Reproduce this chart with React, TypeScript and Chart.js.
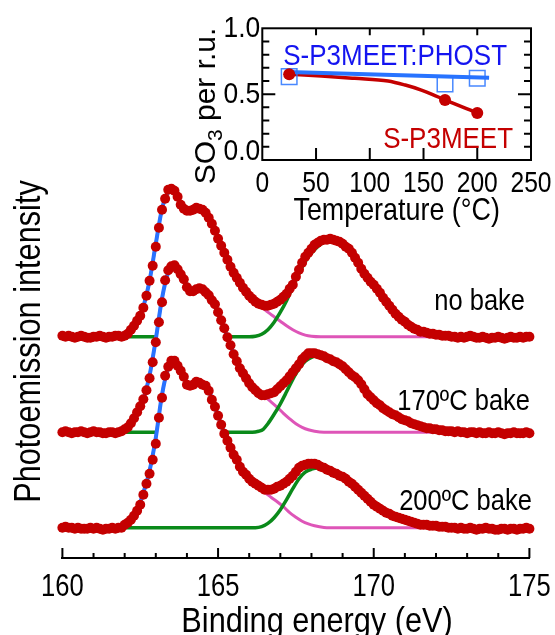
import React, { useEffect, useRef } from 'react';
import { Chart, registerables } from 'chart.js';

Chart.register(...registerables);

const SANS = "'Liberation Sans', Arial, Helvetica, sans-serif";

// ---------------- main XPS spectra ----------------
const ENERGY_START = 160; // eV, first measured point
const ENERGY_STEP = 0.1; // eV, measurement step

const spectrumLabels = ['no bake', '170ºC bake', '200ºC bake'];
const spectrumOffsets = [221.3, 125.7, 30.3]; // vertical stacking offsets (a.u.)
const energyTicks = [160, 165, 170, 175];

// measured intensities (a.u.) from 160.0 to 175.0 eV in 0.1 eV steps
const noBakeData = [
  1, 0, 1, 0, -1, 0, 1, 0, -1, -1, 0, 0, 1, 0, -1, 0, 0, 1, 1, 0,
  1, 3, 7, 11, 16, 21, 29, 41, 56, 71,
  90, 109, 127, 138, 147, 148, 146, 140, 132, 128,
  126, 126, 127, 129, 128, 127, 124, 119, 113, 106,
  98, 91, 84, 77, 70, 64, 59, 54, 49, 45,
  41, 38, 35, 33, 32, 31, 31, 32, 33, 35,
  37, 40, 43, 48, 52, 60, 67, 74, 80, 84,
  88, 92, 94, 96, 97, 97, 98, 97, 96, 95,
  93, 90, 88, 84, 79, 74, 68, 63, 59, 55,
  52, 48, 44, 39, 35, 31, 27, 23, 20, 17,
  15, 12, 10, 8, 7, 5, 5, 4, 3, 3,
  2, 2, 1, 1, 1, 0,
  0, -1, 0, -1, 0, 1, 0, -1, -1, 0, -1, -2, -1, -1, 0, -1, -2, -1, 0, -1, -1, 0, -1, 0, 0,
];
const bake170Data = [
  0, 1, 0, -1, 0, 0, 1, 0, -1, 0, 1, 0, 0, -1, -1, 0, 0, -1, 0, 1,
  3, 5, 9, 14, 20, 26, 33, 42, 54, 70,
  90, 110, 130, 152, 162, 166, 167, 163, 158, 153,
  145, 141, 141, 143, 144, 143, 140, 137, 132, 128,
  120, 112, 104, 95, 87, 78, 71, 64, 59, 54,
  49, 45, 42, 39, 37, 37, 38, 39, 40, 43,
  46, 49, 52, 56, 60, 64, 68, 73, 76, 79,
  79, 79, 78, 77, 76, 74, 73, 71, 70, 68,
  66, 63, 60, 57, 55, 52, 48, 43, 38, 35,
  32, 29, 27, 24, 22, 20, 18, 17, 15, 13,
  12, 11, 9, 8, 7, 6, 5, 4, 4, 3,
  3, 2, 2, 1, 1, 1,
  0, 1, 0, 0, -1, 0, 0, -1, 0, -1, -1, 0, -1, -1, 0, -1, -2, -1, -1, 0, -1, -1, -1, 0, -1,
];
const bake200Data = [
  0, 1, 0, 0, -1, 0, -1, -1, -1, 0, -1, 0, -1, -2, -1, -1, 0, -1, 0, 0,
  3, 5, 8, 12, 17, 23, 33, 44, 54, 68,
  84, 110, 130, 152, 161, 167, 167, 162, 157, 151,
  143, 142, 143, 146, 145, 143, 142, 137, 128, 121,
  112, 103, 94, 87, 80, 73, 68, 61, 56, 53,
  49, 46, 44, 42, 40, 38, 38, 38, 39, 41,
  42, 44, 46, 49, 52, 56, 60, 62, 63, 64,
  64, 64, 63, 61, 60, 58, 57, 55, 54, 52,
  51, 49, 46, 44, 41, 38, 35, 32, 29, 26,
  23, 21, 19, 17, 15, 14, 12, 11, 10, 9,
  8, 7, 6, 5, 4, 3, 3, 3, 2, 2,
  2, 1, 1, 1, 0, 0,
  0, -1, 0, -1, -1, 0, -1, -2, -1, -1, 0, -1, -1, -2, -2, -1, -1, -2, -1, -1, -2, -1, -1, 0, -1,
];

// fitted curves: [binding energy (eV), intensity (a.u.)]
const noBakeEnvelope = [
  [160, 0], [161.8, 0], [162, 0.5], [162.2, 5], [162.4, 14], [162.6, 30], [162.8, 56], [163, 93],
  [163.2, 128], [163.35, 142], [163.5, 147], [163.65, 143], [163.8, 134], [164, 128], [164.2, 127],
  [164.4, 127.5], [164.6, 123], [164.8, 113], [165, 99], [165.2, 84], [165.4, 70], [165.6, 59],
  [165.8, 50], [166, 42], [166.2, 36], [166.4, 32.5], [166.6, 31.5], [166.8, 33.5], [167, 38],
  [167.2, 45], [167.4, 55], [167.6, 67], [167.8, 79], [168, 88], [168.2, 94], [168.4, 97],
  [168.6, 97.5], [168.8, 96], [169, 92], [169.2, 86], [169.4, 78], [169.6, 69], [169.8, 59],
  [170, 50], [170.2, 41.5], [170.4, 33], [170.6, 25], [170.8, 17.5], [171, 12], [171.2, 8.5],
  [171.4, 5.5], [171.6, 3.5], [171.8, 2], [172, 1], [172.4, 0.3], [172.8, 0], [175, 0],
];
const noBakeThiophene = [
  [160, 0], [161.8, 0], [162, 0.5], [162.2, 5], [162.4, 14], [162.6, 30], [162.8, 56], [163, 93],
  [163.2, 128], [163.35, 142], [163.5, 147], [163.65, 143], [163.8, 134], [164, 128], [164.2, 127],
  [164.4, 127.5], [164.6, 123], [164.8, 113], [165, 99], [165.2, 84], [165.4, 70], [165.6, 59],
  [165.8, 50], [166, 42], [166.2, 35.5], [166.4, 30], [166.6, 24.5], [166.8, 20], [167, 15.5],
  [167.2, 11], [167.4, 7], [167.6, 3.8], [167.8, 1.6], [168, 0.5], [168.3, 0], [175, 0],
];
const noBakeSulfonate = [
  [160, 0], [166, 0], [166.2, 0.5], [166.4, 2.5], [166.6, 7], [166.8, 14.5], [167, 24.5],
  [167.2, 36], [167.4, 50], [167.6, 63], [167.8, 75], [168, 83.5], [168.2, 90], [168.4, 94.5],
  [168.6, 96.5], [168.8, 95.5], [169, 92], [169.3, 82], [169.6, 69], [170, 50], [170.4, 33],
  [170.8, 17.5], [171.2, 8.5], [171.6, 3.5], [172, 1], [172.8, 0], [175, 0],
];

const bake170Envelope = [
  [160, 0], [161.8, 0], [162, 2], [162.2, 8], [162.4, 19], [162.6, 33], [162.8, 57], [163, 93],
  [163.2, 134], [163.4, 160], [163.55, 166], [163.7, 163], [163.85, 156], [164, 147],
  [164.15, 141.5], [164.35, 143.5], [164.5, 143], [164.7, 136], [164.9, 126], [165.1, 112],
  [165.3, 95], [165.5, 79], [165.7, 65], [165.9, 54], [166.1, 45.5], [166.3, 39.5], [166.5, 37],
  [166.7, 38.5], [166.9, 42.5], [167.1, 48.5], [167.3, 56], [167.5, 64], [167.7, 72], [167.9, 77.5],
  [168.1, 79], [168.3, 78], [168.5, 75], [168.7, 71.5], [168.9, 68], [169.1, 63.5], [169.3, 57.5],
  [169.5, 51], [169.7, 43], [169.9, 35.5], [170.1, 29], [170.3, 23.5], [170.5, 19], [170.7, 15],
  [170.9, 11.5], [171.1, 8.5], [171.3, 6], [171.5, 4], [171.7, 2.7], [171.9, 1.8], [172.2, 0.9],
  [172.6, 0.3], [173, 0], [175, 0],
];
const bake170Thiophene = [
  [160, 0], [161.8, 0], [162, 2], [162.2, 8], [162.4, 19], [162.6, 33], [162.8, 57], [163, 93],
  [163.2, 134], [163.4, 160], [163.55, 166], [163.7, 163], [163.85, 156], [164, 147],
  [164.15, 141.5], [164.35, 143.5], [164.5, 143], [164.7, 136], [164.9, 126], [165.1, 112],
  [165.3, 95], [165.5, 79], [165.7, 65], [165.9, 54], [166.1, 45.5], [166.3, 39], [166.5, 35.5],
  [166.7, 30.5], [166.9, 25], [167.1, 19], [167.3, 13.5], [167.5, 8.5], [167.7, 5], [167.9, 2.5],
  [168.1, 1], [168.4, 0], [175, 0],
];
const bake170Sulfonate = [
  [160, 0], [166.1, 0], [166.3, 1], [166.45, 3], [166.6, 8.5], [166.8, 18], [167, 28.5],
  [167.2, 40.5], [167.4, 53], [167.6, 63.5], [167.8, 71], [168, 75], [168.2, 77], [168.4, 77],
  [168.6, 73.5], [168.9, 68], [169.2, 60.5], [169.5, 51], [169.8, 39], [170.1, 29], [170.5, 19],
  [170.9, 11.5], [171.3, 6], [171.7, 2.7], [172.2, 0.9], [173, 0], [175, 0],
];

const bake200Envelope = [
  [160, 0], [161.8, 0], [162, 2], [162.2, 8], [162.4, 17], [162.6, 35], [162.8, 57], [163, 90],
  [163.2, 133], [163.4, 160], [163.55, 166.5], [163.7, 162], [163.85, 155], [164, 145],
  [164.15, 143], [164.35, 146], [164.55, 143], [164.7, 137], [164.9, 121], [165.1, 103],
  [165.3, 87], [165.5, 73], [165.7, 61], [165.9, 53], [166.1, 46.5], [166.3, 42], [166.5, 38.5],
  [166.7, 38], [166.9, 40], [167.1, 43.5], [167.3, 49], [167.5, 55.5], [167.7, 60.5], [167.9, 63.5],
  [168.1, 64], [168.3, 61.5], [168.5, 58], [168.7, 55], [168.9, 52], [169.1, 48.5], [169.3, 43.5],
  [169.5, 37.5], [169.7, 31.5], [169.9, 26], [170.1, 21], [170.3, 17], [170.5, 13.5], [170.7, 10.5],
  [170.9, 8], [171.1, 6], [171.3, 4.5], [171.5, 3], [171.8, 1.7], [172.2, 0.7], [172.6, 0.2],
  [173, 0], [175, 0],
];
const bake200Thiophene = [
  [160, 0], [161.8, 0], [162, 2], [162.2, 8], [162.4, 17], [162.6, 35], [162.8, 57], [163, 90],
  [163.2, 133], [163.4, 160], [163.55, 166.5], [163.7, 162], [163.85, 155], [164, 145],
  [164.15, 143], [164.35, 146], [164.55, 143], [164.7, 137], [164.9, 121], [165.1, 103],
  [165.3, 87], [165.5, 73], [165.7, 61], [165.9, 53], [166.1, 46.5], [166.3, 42], [166.5, 35.5],
  [166.7, 30.5], [166.9, 26], [167.1, 21], [167.3, 15], [167.5, 10.5], [167.7, 6.5], [167.9, 3.8],
  [168.1, 2], [168.4, 0.3], [168.6, 0], [175, 0],
];
const bake200Sulfonate = [
  [160, 0], [166.2, 0], [166.4, 1], [166.6, 4.3], [166.8, 10], [167, 18], [167.2, 28], [167.4, 39],
  [167.6, 49], [167.8, 55.5], [168, 58.5], [168.2, 59.8], [168.35, 59.5], [168.5, 58], [168.8, 53.5],
  [169.1, 48.5], [169.4, 40.5], [169.7, 31.5], [170, 23.5], [170.4, 15], [170.8, 9], [171.3, 4.5],
  [171.8, 1.7], [172.6, 0.2], [173, 0], [175, 0],
];

// ---------------- inset: SO3 per repeat unit ----------------
const bakeTemperatures = [25, 170, 200];
const blendSO3 = [0.633, 0.577, 0.62]; // S-P3MEET:PHOST
const pureSO3 = [0.651, 0.456, 0.357]; // S-P3MEET
const blendFit = [[24, 0.668], [211, 0.625]];
const pureFit = [
  [25, 0.651], [55, 0.638], [86, 0.62], [117, 0.6], [133, 0.569], [148, 0.531], [158, 0.499],
  [170, 0.456], [200, 0.357],
];
const seriesNames = ['S-P3MEET:PHOST', 'S-P3MEET'];
const temperatureTicks = [0, 50, 100, 150, 200, 250];
const so3Ticks = [0, 0.5, 1.0];

const RED = '#C40000';
const BLUE_FIT = 'rgb(40,115,255)';
const GREEN = '#0A8A1A';
const MAGENTA = '#DE55B8';

const spectra = [
  { data: noBakeData, env: noBakeEnvelope, thio: noBakeThiophene, sulf: noBakeSulfonate },
  { data: bake170Data, env: bake170Envelope, thio: bake170Thiophene, sulf: bake170Sulfonate },
  { data: bake200Data, env: bake200Envelope, thio: bake200Thiophene, sulf: bake200Sulfonate },
];

const pairs = (arr: number[][], off: number) => arr.map(([x, y]) => ({ x, y: y + off }));
const measured = (arr: number[], off: number) =>
  arr.map((v, i) => ({ x: ENERGY_START + i * ENERGY_STEP, y: v + off }));

// narrow text: Liberation Sans squeezed horizontally
function drawText(
  ctx: CanvasRenderingContext2D, text: string, x: number, y: number, size: number, sx: number,
  align: CanvasTextAlign, color = '#000', rotate = false,
) {
  ctx.save();
  ctx.translate(x, y);
  if (rotate) ctx.rotate(-Math.PI / 2);
  ctx.scale(sx, 1);
  ctx.font = `${size}px ${SANS}`;
  ctx.fillStyle = color;
  ctx.textAlign = align;
  ctx.textBaseline = 'alphabetic';
  ctx.fillText(text, 0, 0);
  ctx.restore();
}

const mainDecor = {
  id: 'mainDecor',
  afterDraw(chart: any) {
    const { ctx, chartArea, scales } = chart;
    const x = scales.x;
    const y = scales.y;
    ctx.save();
    ctx.strokeStyle = '#000';
    ctx.lineWidth = 2;
    const yb = chartArea.bottom;
    ctx.beginPath();
    for (let e = 160; e <= 175; e += 1) {
      const px = x.getPixelForValue(e);
      const len = e % 5 === 0 ? 10 : 5;
      ctx.moveTo(px, yb);
      ctx.lineTo(px, yb - len);
    }
    ctx.stroke();
    ctx.restore();

    energyTicks.forEach((v) => drawText(ctx, String(v), x.getPixelForValue(v), yb + 38, 32, 0.8, 'center'));
    drawText(ctx, 'Binding energy (eV)', 317, 631.6, 35, 0.877, 'center');

    const labelE = [174.86, 175.02, 175.08];
    const labelI = [248, 148, 48];
    spectrumLabels.forEach((t, k) => {
      drawText(ctx, t, x.getPixelForValue(labelE[k]), y.getPixelForValue(labelI[k]), 29, 0.88, 'right');
    });
    drawText(ctx, 'Photoemission intensity', 40, 341.5, 37, 0.83, 'center', '#000', true);
  },
};

const insetDecor = {
  id: 'insetDecor',
  afterDraw(chart: any) {
    const { ctx, chartArea: a, scales } = chart;
    const x = scales.x;
    const y = scales.y;
    ctx.save();
    ctx.strokeStyle = '#000';
    ctx.lineWidth = 2;
    ctx.strokeRect(a.left, a.top, a.right - a.left, a.bottom - a.top);
    ctx.beginPath();
    for (let t = 50; t < 250; t += 50) {
      const px = x.getPixelForValue(t);
      ctx.moveTo(px, a.bottom);
      ctx.lineTo(px, a.bottom - 12);
      ctx.moveTo(px, a.top);
      ctx.lineTo(px, a.top + 7);
    }
    for (let v = 1; v < 10; v++) {
      const py = y.getPixelForValue(v / 10);
      const len = v === 5 ? 13 : 7;
      ctx.moveTo(a.left, py);
      ctx.lineTo(a.left + len, py);
      ctx.moveTo(a.right, py);
      ctx.lineTo(a.right - len, py);
    }
    ctx.stroke();
    ctx.restore();

    // tick labels
    temperatureTicks.forEach((t) => drawText(ctx, String(t), x.getPixelForValue(t), a.bottom + 31.7, 30, 0.82, 'center'));
    so3Ticks.forEach((v, i) => {
      const py = y.getPixelForValue(v) + (i === 0 ? 0 : 9);
      drawText(ctx, v.toFixed(1), a.left - 2, py, 30, 0.88, 'right');
    });
    drawText(ctx, 'Temperature (°C)', (a.left + a.right) / 2, 220, 32, 0.84, 'center');

    // series names
    drawText(ctx, seriesNames[0], x.getPixelForValue(19.5), y.getPixelForValue(0.721), 30, 0.866, 'left', '#1414F0');
    drawText(ctx, seriesNames[1], x.getPixelForValue(233.3), y.getPixelForValue(0.091), 30, 0.866, 'right', RED);

    // y title with subscript
    ctx.save();
    ctx.fillStyle = '#000';
    ctx.translate(25, 106);
    ctx.rotate(-Math.PI / 2);
    ctx.textAlign = 'left';
    ctx.textBaseline = 'alphabetic';
    const big = `30px ${SANS}`;
    const small = `21px ${SANS}`;
    ctx.font = big;
    const w1 = ctx.measureText('SO').width;
    const w3 = ctx.measureText(' per r.u.').width;
    ctx.font = small;
    const w2 = ctx.measureText('3').width;
    let cx = -(w1 + w2 + w3) / 2;
    ctx.font = big;
    ctx.fillText('SO', cx, 0);
    cx += w1;
    ctx.font = small;
    ctx.fillText('3', cx, 7);
    cx += w2;
    ctx.font = big;
    ctx.fillText(' per r.u.', cx, 0);
    ctx.restore();
  },
};

export default function App() {
  const mainRef = useRef<HTMLCanvasElement>(null);
  const insetRef = useRef<HTMLCanvasElement>(null);

  useEffect(() => {
    const datasets: any[] = [];
    spectra.forEach((sp, k) => {
      const off = spectrumOffsets[k];
      const base = 100 - k * 5;
      const line = { pointRadius: 0, cubicInterpolationMode: 'monotone', clip: false };
      datasets.push({
        ...line, label: spectrumLabels[k] + ' mask', data: pairs(sp.env, off),
        borderWidth: 0, borderColor: 'rgba(0,0,0,0)', backgroundColor: '#ffffff',
        fill: { value: off }, order: base,
      });
      datasets.push({
        ...line, label: spectrumLabels[k] + ' thiophene', data: pairs(sp.thio, off),
        borderColor: MAGENTA, borderWidth: 3, fill: false, order: base - 1,
      });
      datasets.push({
        ...line, label: spectrumLabels[k] + ' sulfonate', data: pairs(sp.sulf, off),
        borderColor: GREEN, borderWidth: 3.5, fill: false, order: base - 2,
      });
      datasets.push({
        ...line, label: spectrumLabels[k] + ' fit', data: pairs(sp.env, off),
        borderColor: BLUE_FIT, borderWidth: 4, fill: false, order: base - 3,
      });
      datasets.push({
        label: spectrumLabels[k], data: measured(sp.data, off), showLine: false,
        pointRadius: 5, pointBorderWidth: 0, pointBackgroundColor: RED,
        pointBorderColor: RED, clip: false, order: base - 4,
      });
    });

    const main = new Chart(mainRef.current!, {
      type: 'line',
      data: { datasets },
      plugins: [mainDecor],
      options: {
        animation: false,
        responsive: false,
        maintainAspectRatio: false,
        events: [],
        layout: { padding: { left: 62.4, right: 25.6, top: 180, bottom: 0 } },
        plugins: { legend: { display: false }, tooltip: { enabled: false } },
        scales: {
          x: {
            type: 'linear', min: 160, max: 175,
            afterFit: (s: any) => { s.height = 77; },
            grid: { display: false, drawTicks: false },
            border: { display: true, color: '#000', width: 2 },
            ticks: { display: false },
            title: { display: false },
          },
          y: { type: 'linear', min: 0, max: 378, display: false },
        },
      } as any,
    });

    const inset = new Chart(insetRef.current!, {
      type: 'line',
      data: {
        datasets: [
          {
            label: seriesNames[1] + ' fit', data: pairs(pureFit, 0), borderColor: RED, borderWidth: 3.5,
            pointRadius: 0, cubicInterpolationMode: 'monotone', fill: false, order: 4,
          },
          {
            label: seriesNames[0] + ' fit', data: pairs(blendFit, 0), borderColor: BLUE_FIT, borderWidth: 4,
            pointRadius: 0, fill: false, order: 3,
          },
          {
            label: seriesNames[0], data: bakeTemperatures.map((t, i) => ({ x: t, y: blendSO3[i] })),
            showLine: false, pointStyle: 'rect', pointRadius: 11, pointBorderWidth: 1.5,
            pointBorderColor: 'rgba(40,115,255,0.85)', pointBackgroundColor: 'rgba(0,0,0,0)', order: 2,
          },
          {
            label: seriesNames[1], data: bakeTemperatures.map((t, i) => ({ x: t, y: pureSO3[i] })),
            showLine: false, pointRadius: 6, pointBorderWidth: 0, pointBackgroundColor: RED,
            pointBorderColor: RED, order: 1,
          },
        ],
      },
      plugins: [insetDecor],
      options: {
        animation: false,
        responsive: false,
        maintainAspectRatio: false,
        events: [],
        layout: { padding: { left: 0, right: 24, top: 28.3, bottom: 0 } },
        plugins: { legend: { display: false }, tooltip: { enabled: false } },
        scales: {
          x: {
            type: 'linear', min: 0, max: 250,
            afterFit: (s: any) => { s.height = 80; },
            grid: { display: false, drawTicks: false },
            border: { display: false },
            ticks: { display: false },
            title: { display: false },
          },
          y: {
            type: 'linear', min: 0, max: 1,
            afterFit: (s: any) => { s.width = 72.3; },
            grid: { display: false, drawTicks: false },
            border: { display: false },
            ticks: { display: false },
          },
        },
      } as any,
    });

    return () => {
      main.destroy();
      inset.destroy();
    };
  }, []);

  return (
    <div style={{ position: 'fixed', left: 0, top: 0, width: 555, height: 635, background: '#fff' }}>
      <canvas ref={mainRef} width={555} height={635}
        style={{ position: 'absolute', left: 0, top: 0, width: 555, height: 635 }} />
      <canvas ref={insetRef} width={365} height={240}
        style={{ position: 'absolute', left: 190, top: 0, width: 365, height: 240 }} />
    </div>
  );
}
